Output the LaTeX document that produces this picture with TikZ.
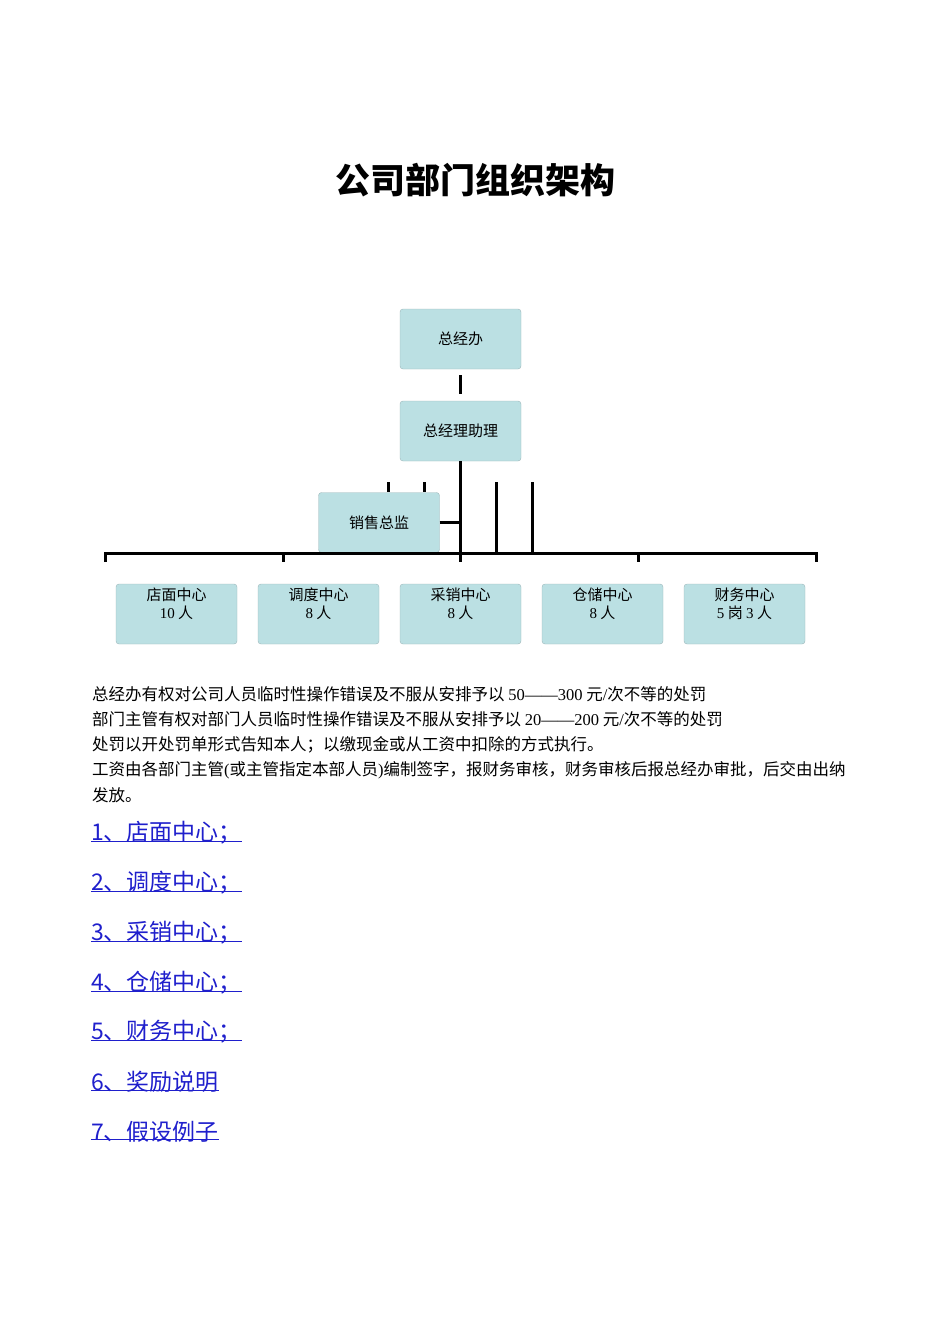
\documentclass[tikz,border=0pt]{standalone}
\usepackage{fontspec}
\setmainfont{Noto Sans CJK SC}
\newfontfamily\serif{Liberation Serif}
\definecolor{boxfill}{HTML}{BBE0E3}
\definecolor{boxline}{HTML}{9DB7BA}
\definecolor{linkblue}{HTML}{1F1FCC}
\begin{document}
\begin{tikzpicture}[x=1pt,y=-1pt,
  box/.style={draw=boxline,fill=boxfill,rounded corners=3pt,minimum width=121pt,minimum height=60pt,font=\fontsize{15}{16}\selectfont,align=center,inner sep=0pt},
  ctext/.style={font=\fontsize{15}{18}\selectfont,align=center,inner sep=0pt},
  conn/.style={line width=3pt},
  para/.style={anchor=west,font=\fontsize{16.5}{18}\selectfont,inner sep=0pt},
  lnk/.style={anchor=west,font=\fontsize{23}{25}\selectfont,text=linkblue,inner sep=0pt}]
\useasboundingbox (0,0) rectangle (950,1344);
\node[font=\fontsize{35}{37}\bfseries\selectfont] (title) at (475,180) {公司部门组织架构};
\node[box] (top) at (460.5,339) {总经办};
\node[box] (asst) at (460.5,431) {总经理助理};
\node[box] (sales) at (379,522.5) {销售总监};
\foreach \i/\x/\a/\b in {1/176.5/店面中心/{{\serif 10} 人},2/318.5/调度中心/{{\serif 8} 人},3/460.5/采销中心/{{\serif 8} 人},4/602.5/仓储中心/{{\serif 8} 人},5/744.5/财务中心/{{\serif 5} 岗 {\serif 3} 人}}{
  \node[box] (c\i) at (\x,614) {};
  \node[ctext] (t\i) at (\x,604) {\a\\\b};
}
\coordinate (bus) at (460,553);
\draw[conn] (460,375) -- (460,394);
\draw[conn] (asst.south -| bus) -- (bus);
\draw[conn] (sales.east) -- (sales.east -| bus);
\draw[conn] (388,482) -- (388,492) (424,482) -- (424,492);
\draw[conn] (496,482) -- (496,553) (532,482) -- (532,553);
\draw[conn] (105,562) -- (105,553) -- (816,553) -- (816,562);
\foreach \x in {283,460,638} \draw[conn] (\x,553) -- (\x,562);
\node[para] (p1) at (92,694) {总经办有权对公司人员临时性操作错误及不服从安排予以 {\serif 50——300} 元{\serif /}次不等的处罚};
\node[para] (p2) at (92,719) {部门主管有权对部门人员临时性操作错误及不服从安排予以 {\serif 20——200} 元{\serif /}次不等的处罚};
\node[para] (p3) at (92,745) {处罚以开处罚单形式告知本人；以缴现金或从工资中扣除的方式执行。};
\node[para] (p4) at (92,770) {工资由各部门主管{\serif (}或主管指定本部人员{\serif )}编制签字，报财务审核，财务审核后报总经办审批，后交由出纳};
\node[para] (p5) at (92,795) {发放。};
\foreach \i/\t/\y in {1/{1、店面中心；}/833,2/{2、调度中心；}/883,3/{3、采销中心；}/933,4/{4、仓储中心；}/983,5/{5、财务中心；}/1032,6/{6、奖励说明}/1082,7/{7、假设例子}/1132}{
  \node[lnk] (l\i) at (91,\y) {\t};
  \draw[linkblue,line width=0.8pt] ([yshift=3pt]l\i.south west) -- ([yshift=3pt]l\i.south east);
}
\end{tikzpicture}
\end{document}
